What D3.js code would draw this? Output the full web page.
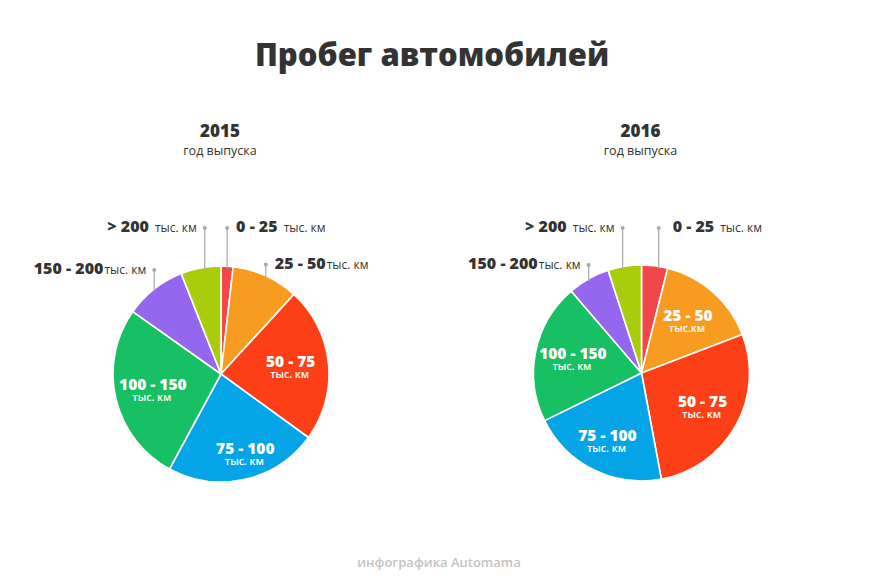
<!DOCTYPE html>
<html><head><meta charset="utf-8">
<script src="https://cdn.jsdelivr.net/npm/d3@7"></script>
<style>
html,body{margin:0;padding:0;background:#fff;}
svg{display:block;font-family:"Open Sans",sans-serif;}
</style></head>
<body>
<svg id="chart" width="870" height="584"></svg>
<script>
// ---- data ----
const categories = ["0 - 25", "25 - 50", "50 - 75", "75 - 100", "100 - 150", "150 - 200", "> 200"];
const colors = ["#f2474a", "#f89b21", "#fc3f17", "#05a4e7", "#17c062", "#9567ee", "#a9cd0d"];
const years = ["2015", "2016"];
const values2015 = [1.8, 10.0, 23.2, 22.9, 26.9, 9.2, 6.0];
const values2016 = [3.9, 15.3, 27.9, 20.7, 21.0, 6.3, 5.0];
const unitLabel = "тыс. км";
const titleText = "Пробег автомобилей";
const subtitleText = "год выпуска";
const footerText = "инфографика Automama";

// ---- layout ----
const W = 870, H = 584;
const svg = d3.select("#chart");
const R = 108;
const charts = [
  { year: years[0], values: values2015, cx: 221, cy: 374,
    inner: { 2: {unitText: unitLabel}, 3: {unitText: unitLabel, r: 84, ang: -0.07}, 4: {unitText: unitLabel} },
    outer: [
      { i: 0, dotY: 228, side: "right", gap: 9, unitGap: 6 },
      { i: 1, dotY: 264.5, side: "right", gap: 9, unitGap: 1 },
      { i: 5, dotY: 270, side: "left", gap: 8, unitGap: 1 },
      { i: 6, dotY: 228, side: "left", gap: 8, unitGap: 6, dx: 4 }
    ] },
  { year: years[1], values: values2016, cx: 641.5, cy: 373,
    inner: { 1: {unitText: "тыс.км"}, 2: {unitText: unitLabel}, 3: {unitText: unitLabel, r: 76}, 4: {unitText: unitLabel} },
    outer: [
      { i: 0, dotY: 228, side: "right", gap: 14, unitGap: 6, dx: 4 },
      { i: 5, dotY: 265, side: "left", gap: 8, unitGap: 1 },
      { i: 6, dotY: 228, side: "left", gap: 8, unitGap: 6, dx: -2 }
    ] }
];

svg.append("text").attr("x", 432).attr("y", 66).attr("text-anchor", "middle")
  .attr("font-size", 31).attr("font-weight", 800).attr("fill", "#333").text(titleText);

svg.append("text").attr("x", 439).attr("y", 567).attr("text-anchor", "middle")
  .attr("font-size", 13).attr("font-weight", 600).attr("fill", "#c4c4c4").text(footerText);

const pie = d3.pie().sort(null).value(d => d);
const arc = d3.arc().innerRadius(0).outerRadius(R);

charts.forEach(c => {
  const g = svg.append("g").attr("transform", `translate(${c.cx},${c.cy})`);
  const arcs = pie(c.values);

  // header
  svg.append("text").attr("x", c.cx - 1).attr("y", 137).attr("text-anchor", "middle")
    .attr("font-size", 17).attr("font-weight", 800).attr("fill", "#333").text(c.year);
  svg.append("text").attr("x", c.cx - 1).attr("y", 155).attr("text-anchor", "middle")
    .attr("font-size", 12.5).attr("fill", "#333").text(subtitleText);

  g.selectAll("path.slice").data(arcs).enter().append("path")
    .attr("class", "slice")
    .attr("d", arc)
    .attr("fill", (d, i) => colors[i])
    .attr("stroke", "#fff").attr("stroke-width", 1.6).attr("stroke-linejoin", "round");

  // inner labels
  Object.keys(c.inner).forEach(k => {
    const i = +k, opt = c.inner[k], d = arcs[i];
    const mid = (d.startAngle + d.endAngle) / 2 + (opt.ang || 0);
    const lr = opt.r || 70;
    const x = lr * Math.sin(mid), y = -lr * Math.cos(mid);
    const lg = g.append("g").attr("text-anchor", "middle").attr("fill", "#fff");
    lg.append("text").attr("x", x).attr("y", y).attr("font-size", 15.5).attr("font-weight", 800).text(categories[i]);
    lg.append("text").attr("x", x - 1).attr("y", y + 11).attr("font-size", 10.5).attr("font-weight", 600).text(opt.unitText);
  });

  // outer labels with leader lines
  c.outer.forEach(o => {
    const d = arcs[o.i];
    const mid = (d.startAngle + d.endAngle) / 2;
    const lx = R * Math.sin(mid) + (o.dx || 0);
    const edgeY = -Math.sqrt(Math.max(0, R * R - lx * lx));
    const dotY = o.dotY - c.cy;
    g.append("line").attr("x1", lx).attr("x2", lx).attr("y1", dotY).attr("y2", edgeY + 2)
      .attr("stroke", "#b0b0b0").attr("stroke-width", 1.3);
    g.append("circle").attr("cx", lx).attr("cy", dotY).attr("r", 2).attr("fill", "#a8a8a8");
    const t = g.append("text").attr("y", dotY + 4).attr("fill", "#333")
      .attr("text-anchor", o.side === "right" ? "start" : "end")
      .attr("x", o.side === "right" ? lx + o.gap : lx - o.gap);
    t.append("tspan").attr("font-size", 16).attr("font-weight", 800).text(categories[o.i]);
    t.append("tspan").attr("dx", o.unitGap).attr("font-size", 12).attr("font-weight", 400).text(unitLabel);
  });
});
</script>
</body></html>
